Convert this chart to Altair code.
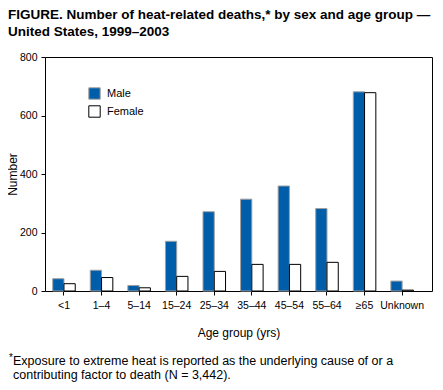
import altair as alt
import pandas as pd

ages = ["<1", "1–4", "5–14", "15–24", "25–34", "35–44", "45–54", "55–64", "≥65", "Unknown"]
male = [42, 71, 19, 170, 271, 314, 359, 282, 681, 34]
female = [25, 46, 11, 50, 67, 91, 91, 98, 678, 3]
sexes = ["Male", "Female"]

title_lines = ["FIGURE. Number of heat-related deaths,* by sex and age group —",
               "United States, 1999–2003"]
foot1 = "Exposure to extreme heat is reported as the underlying cause of or a"
foot2 = "contributing factor to death (N = 3,442)."

rows = []
for a, m, f in zip(ages, male, female):
    rows.append({"age": a, "sex": "Male", "value": m})
    rows.append({"age": a, "sex": "Female", "value": f})
df = pd.DataFrame(rows)

FONT = "Liberation Sans"

legend = alt.Legend(title=None, orient="none", legendX=43, legendY=30,
                    symbolType="square", symbolSize=130, symbolStrokeWidth=1,
                    labelFontSize=11, labelFont=FONT, labelColor="black",
                    rowPadding=1, labelOffset=6, padding=0)

bars = alt.Chart(df).mark_bar(strokeWidth=1).encode(
    x=alt.X("age:N", sort=ages,
            scale=alt.Scale(paddingInner=0.4, paddingOuter=0.35, align=0.293),
            axis=alt.Axis(title="Age group (yrs)", labelAngle=0, tickSize=4,
                          labelPadding=5, titlePadding=17, domain=False)),
    xOffset=alt.XOffset("sex:N", sort=sexes,
                        scale=alt.Scale(paddingInner=0, paddingOuter=0)),
    y=alt.Y("value:Q", scale=alt.Scale(domain=[0, 800]),
            axis=alt.Axis(title="Number", values=[0, 200, 400, 600, 800], grid=False,
                          tickSize=4, labelPadding=4, titleX=-29, titleY=117,
                          titleBaseline="alphabetic", domain=False)),
    color=alt.Color("sex:N", sort=sexes,
                    scale=alt.Scale(domain=sexes, range=["#005DAA", "#FFFFFF"]),
                    legend=legend),
    stroke=alt.Stroke("sex:N", sort=sexes,
                      scale=alt.Scale(domain=sexes, range=["#A0A0A0", "#000000"]),
                      legend=legend),
)

star = alt.Chart(pd.DataFrame({"t": ["*"]})).mark_text(
    align="left", baseline="alphabetic", fontSize=10, font=FONT, color="black"
).encode(text="t:N", x=alt.value(-36), y=alt.value(304))

f1 = alt.Chart(pd.DataFrame({"t": [foot1]})).mark_text(
    align="left", baseline="alphabetic", fontSize=12.5, font=FONT, color="black"
).encode(text="t:N", x=alt.value(-32), y=alt.value(308))

f2 = alt.Chart(pd.DataFrame({"t": [foot2]})).mark_text(
    align="left", baseline="alphabetic", fontSize=12.5, font=FONT, color="black"
).encode(text="t:N", x=alt.value(-32), y=alt.value(322))

chart = alt.layer(bars, star, f1, f2).properties(
    width=387, height=234,
    autosize=alt.AutoSizeParams(type="none"),
    padding={"left": 37, "top": 49, "right": 3, "bottom": 91},
    title=alt.TitleParams(title_lines, anchor="start", frame="group", dx=-37,
                          offset=14, font=FONT, fontSize=13.5, fontWeight="bold",
                          lineHeight=17, color="black"),
).configure_view(stroke="black", strokeWidth=1).configure_axis(
    labelFont=FONT, titleFont=FONT, labelFontSize=10.5, titleFontSize=12,
    titleFontWeight="normal", labelColor="black", titleColor="black",
    tickColor="black", domainColor="black"
)

chart.save("out.html", embed_options={"renderer": "svg", "actions": False})
